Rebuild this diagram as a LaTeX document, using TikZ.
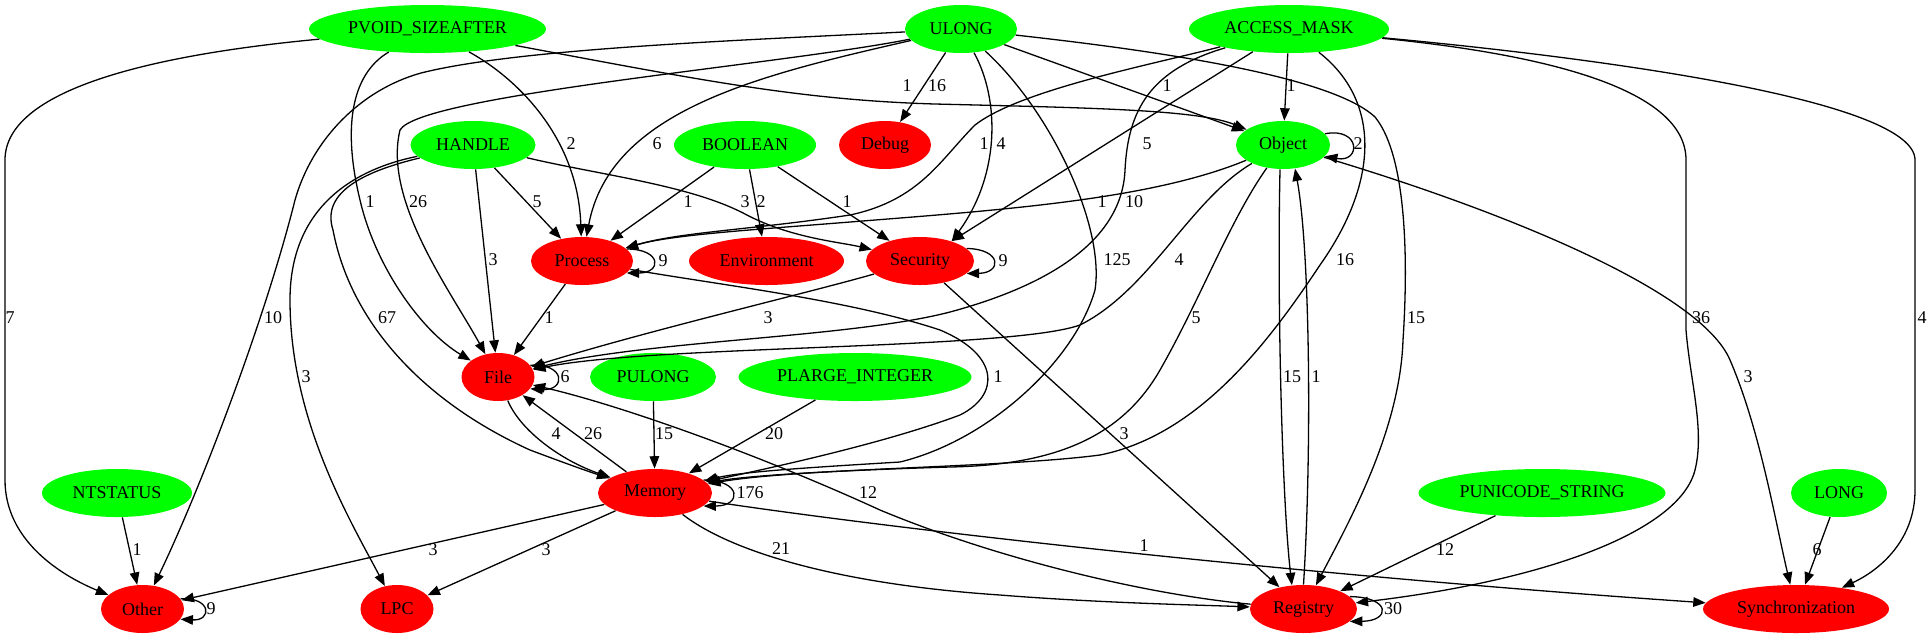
\documentclass[tikz,border=0pt]{standalone}
\usepackage{fontspec}
\setmainfont{Liberation Serif}
\usetikzlibrary{arrows.meta, shapes.geometric}
\definecolor{dotgreen}{HTML}{00FF00}
\definecolor{dotred}{HTML}{FF0000}
\tikzset{
  >={Triangle[length=6.2pt, width=4.8pt]},
  ptype/.style={ellipse, fill=dotgreen, inner sep=0pt, minimum height=24pt,
                font=\fontsize{9}{11}\selectfont},
  pcat/.style={ptype, fill=dotred},
  flow/.style={->, line width=0.65pt, draw=black},
  lbl/.style={inner sep=0pt, font=\fontsize{9}{11}\selectfont},
}

\begin{document}
\begin{tikzpicture}[x=0.5pt, y=-0.5pt]
  \useasboundingbox (0,0) rectangle (1931,639);
  \node[ptype, minimum width=118.5pt] (pvoid) at (427.5,29) {PVOID\_SIZEAFTER};
  \node[ptype, minimum width=56pt] (ulong) at (961,29) {ULONG};
  \node[ptype, minimum width=100pt] (amask) at (1289,29) {ACCESS\_MASK};
  \node[ptype, minimum width=62.5pt] (handle) at (473,145) {HANDLE};
  \node[ptype, minimum width=71pt] (boolean) at (745,145) {BOOLEAN};
  \node[pcat, minimum width=46pt] (debug) at (885,145) {Debug};
  \node[ptype, minimum width=47pt] (object) at (1283,145) {Object};
  \node[pcat, minimum width=51pt] (process) at (582,261) {Process};
  \node[pcat, minimum width=77.5pt] (environ) at (766.5,261) {Environment};
  \node[pcat, minimum width=54pt] (security) at (920,261) {Security};
  \node[pcat, minimum width=36.5pt] (file) at (498,377) {File};
  \node[ptype, minimum width=63pt] (pulong) at (653,377) {PULONG};
  \node[ptype, minimum width=116.5pt] (plarge) at (855,377) {PLARGE\_INTEGER};
  \node[ptype, minimum width=75pt] (ntstatus) at (117,493) {NTSTATUS};
  \node[pcat, minimum width=57pt] (memory) at (655,493) {Memory};
  \node[ptype, minimum width=123.5pt] (punicode) at (1542,493) {PUNICODE\_STRING};
  \node[ptype, minimum width=48pt] (long) at (1839,493) {LONG};
  \node[pcat, minimum width=41.5pt] (other) at (142.5,609) {Other};
  \node[pcat, minimum width=36.5pt] (lpc) at (397,609) {LPC};
  \node[pcat, minimum width=53.5pt] (registry) at (1303.5,609) {Registry};
  \node[pcat, minimum width=93pt] (sync) at (1796,609) {Synchronization};

  \draw[flow] (pvoid) .. controls (150,55) and (5,90) .. (5,160) -- (5,480) .. controls (5,540) and (60,575) .. (other)
    node[lbl, at={(10,318)}] (pvoid-other) {7};
  \draw[flow] (pvoid) .. controls (350,75) and (343,130) .. (360,200) .. controls (375,265) and (420,330) .. (file)
    node[lbl, at={(370,202)}] (pvoid-file) {1};
  \draw[flow] (pvoid) .. controls (520,80) and (578,140) .. (process)
    node[lbl, at={(571,144)}] (pvoid-process) {2};
  \draw[flow] (pvoid) .. controls (700,80) and (800,100) .. (935,104) .. controls (1100,108) and (1200,110) .. (object)
    node[lbl, at={(907,86)}] (pvoid-object) {1};

  \draw[flow] (ulong) .. controls (750,40) and (520,48) .. (421,73) .. controls (360,90) and (312,140) .. (295,200)
    .. controls (265,320) and (200,490) .. (other)
    node[lbl, at={(273,318)}] (ulong-other) {10};
  \draw[flow] (ulong) .. controls (780,65) and (420,95) .. (400,130) .. controls (383,200) and (450,290) .. (file)
    node[lbl, at={(418,202)}] (ulong-file) {26};
  \draw[flow] (ulong) .. controls (760,75) and (610,110) .. (process)
    node[lbl, at={(657,144)}] (ulong-process) {6};
  \draw[flow] (ulong) -- (debug)
    node[lbl, at={(937,86)}] (ulong-debug) {16};
  \draw[flow] (ulong) .. controls (1000,100) and (1000,175) .. (security.32)
    node[lbl, at={(1001,144)}] (ulong-security) {4};
  \draw[flow] (ulong) .. controls (1050,110) and (1105,225) .. (1095,290) .. controls (1075,360) and (990,440) .. (900,462)
    .. controls (800,468) and (740,472) .. (memory)
    node[lbl, at={(1117,260)}] (ulong-memory) {125};
  \draw[flow] (ulong) -- (object)
    node[lbl, at={(1167,86)}] (ulong-object) {1};
  \draw[flow] (ulong) .. controls (1150,50) and (1330,75) .. (1375,117) .. controls (1410,160) and (1407,280) .. (1403,340)
    .. controls (1400,430) and (1350,520) .. (registry)
    node[lbl, at={(1416,318)}] (ulong-registry) {15};

  \draw[flow] (amask) .. controls (1150,65) and (1020,90) .. (975,125) .. controls (940,160) and (920,200) .. (850,215)
    .. controls (750,230) and (680,232) .. (process)
    node[lbl, at={(984,144)}] (amask-process) {1};
  \draw[flow] (amask) -- (security)
    node[lbl, at={(1147,144)}] (amask-security) {5};
  \draw[flow] (amask) .. controls (1150,70) and (1128,110) .. (1125,170) .. controls (1122,240) and (1050,285) .. (950,312)
    .. controls (850,338) and (650,340) .. (file)
    node[lbl, at={(1134,202)}] (amask-file) {10};
  \draw[flow] (amask) -- (object)
    node[lbl, at={(1291,86)}] (amask-object) {1};
  \draw[flow] (amask) .. controls (1380,100) and (1380,180) .. (1320,265) .. controls (1270,340) and (1200,435) .. (1100,455)
    .. controls (1000,468) and (800,468) .. (memory)
    node[lbl, at={(1345,260)}] (amask-memory) {16};
  \draw[flow] (amask) .. controls (1550,55) and (1686,90) .. (1686,160) -- (1686,330) .. controls (1690,380) and (1705,430) .. (1695,470)
    .. controls (1680,530) and (1550,580) .. (registry)
    node[lbl, at={(1701,318)}] (amask-registry) {36};
  \draw[flow] (amask) .. controls (1600,58) and (1915,100) .. (1915,160) -- (1915,490) .. controls (1915,540) and (1880,570) .. (sync)
    node[lbl, at={(1922,318)}] (amask-sync) {4};

  \draw[flow] (handle) -- (process)
    node[lbl, at={(537,202)}] (handle-process) {5};
  \draw[flow] (handle) -- (file)
    node[lbl, at={(493,260)}] (handle-file) {3};
  \draw[flow] (handle) .. controls (600,175) and (690,185) .. (745,214) .. controls (790,238) and (840,242) .. (security)
    node[lbl, at={(745,202)}] (handle-security) {3};
  \draw[flow] (handle) .. controls (350,170) and (290,210) .. (290,300) .. controls (290,420) and (350,520) .. (lpc)
    node[lbl, at={(306,377)}] (handle-lpc) {3};
  \draw[flow] (handle) .. controls (370,170) and (320,190) .. (333,230) .. controls (350,320) and (420,400) .. (530,450)
    .. controls (570,465) and (590,472) .. (memory)
    node[lbl, at={(387,318)}] (handle-memory) {67};

  \draw[flow] (boolean) -- (process)
    node[lbl, at={(688,202)}] (boolean-process) {1};
  \draw[flow] (boolean) -- (environ)
    node[lbl, at={(761,202)}] (boolean-environ) {2};
  \draw[flow] (boolean) -- (security)
    node[lbl, at={(847,202)}] (boolean-security) {1};

  \draw[flow] (object.15) .. controls (1361,127) and (1361,163) .. (object.345)
    node[lbl, at={(1358,144)}] (object-object) {2};
  \draw[flow] (object) .. controls (1150,200) and (1000,210) .. (850,222) .. controls (750,230) and (670,235) .. (process)
    node[lbl, at={(1102,202)}] (object-process) {1};
  \draw[flow] (object) .. controls (1190,200) and (1150,290) .. (1080,325) .. controls (1010,350) and (650,345) .. (file)
    node[lbl, at={(1179,260)}] (object-file) {4};
  \draw[flow] (object) .. controls (1230,220) and (1200,300) .. (1160,370) .. controls (1120,440) and (1050,465) .. (950,467)
    .. controls (850,470) and (750,475) .. (memory)
    node[lbl, at={(1196,318)}] (object-memory) {5};
  \draw[flow] (object.263) .. controls (1277,300) and (1282,500) .. (registry.116)
    node[lbl, at={(1292,377)}] (object-registry) {15};
  \draw[flow] (object) .. controls (1500,210) and (1700,290) .. (1730,360) .. controls (1760,430) and (1775,520) .. (sync)
    node[lbl, at={(1748,377)}] (object-sync) {3};

  \draw[flow] (process.15) .. controls (662,249) and (662,273) .. (process.345)
    node[lbl, at={(663,261)}] (process-process) {9};
  \draw[flow] (process) -- (file)
    node[lbl, at={(549,318)}] (process-file) {1};
  \draw[flow] (process) .. controls (720,285) and (850,300) .. (940,330) .. controls (1000,355) and (1000,395) .. (960,415)
    .. controls (880,445) and (760,470) .. (memory)
    node[lbl, at={(998,377)}] (process-memory) {1};

  \draw[flow] (security.15) .. controls (1002,249) and (1002,273) .. (security.345)
    node[lbl, at={(1003,261)}] (security-security) {9};
  \draw[flow] (security) .. controls (800,295) and (650,330) .. (file)
    node[lbl, at={(768,318)}] (security-file) {3};
  \draw[flow] (security) -- (registry)
    node[lbl, at={(1124,434)}] (security-registry) {3};

  \draw[flow] (file.20) .. controls (566,363) and (566,391) .. (file.340)
    node[lbl, at={(565,377)}] (file-file) {6};
  \draw[flow] (file) .. controls (520,430) and (560,460) .. (memory)
    node[lbl, at={(556,434)}] (file-memory) {4};

  \draw[flow] (memory.15) .. controls (742,480) and (742,506) .. (memory.345)
    node[lbl, at={(750,493)}] (memory-memory) {176};
  \draw[flow] (memory) -- (file)
    node[lbl, at={(593,434)}] (memory-file) {26};
  \draw[flow] (memory) -- (other)
    node[lbl, at={(433,550)}] (memory-other) {3};
  \draw[flow] (memory) -- (lpc)
    node[lbl, at={(546,550)}] (memory-lpc) {3};
  \draw[flow] (memory) .. controls (735,555) and (850,585) .. (1000,595) .. controls (1100,603) and (1200,605) .. (registry)
    node[lbl, at={(781,549)}] (memory-registry) {21};
  \draw[flow] (memory) .. controls (900,530) and (1300,575) .. (sync)
    node[lbl, at={(1144,546)}] (memory-sync) {1};

  \draw[flow] (registry.15) .. controls (1391,597) and (1391,621) .. (registry.345)
    node[lbl, at={(1393,609)}] (registry-registry) {30};
  \draw[flow] (registry.north) .. controls (1312,450) and (1310,250) .. (object.297)
    node[lbl, at={(1316,377)}] (registry-object) {1};
  \draw[flow] (registry) .. controls (1150,595) and (1000,560) .. (880,510) .. controls (760,455) and (620,405) .. (file)
    node[lbl, at={(868,493)}] (registry-file) {12};

  \draw[flow] (pulong) -- (memory)
    node[lbl, at={(664,434)}] (pulong-memory) {15};
  \draw[flow] (plarge) -- (memory)
    node[lbl, at={(774,434)}] (plarge-memory) {20};
  \draw[flow] (ntstatus) -- (other)
    node[lbl, at={(137,550)}] (ntstatus-other) {1};
  \draw[flow] (punicode) -- (registry)
    node[lbl, at={(1445,550)}] (punicode-registry) {12};
  \draw[flow] (long) -- (sync)
    node[lbl, at={(1817,550)}] (long-sync) {6};

  \draw[flow] (other.15) .. controls (212,597) and (212,621) .. (other.345)
    node[lbl, at={(211,609)}] (other-other) {9};
\end{tikzpicture}
\end{document}
